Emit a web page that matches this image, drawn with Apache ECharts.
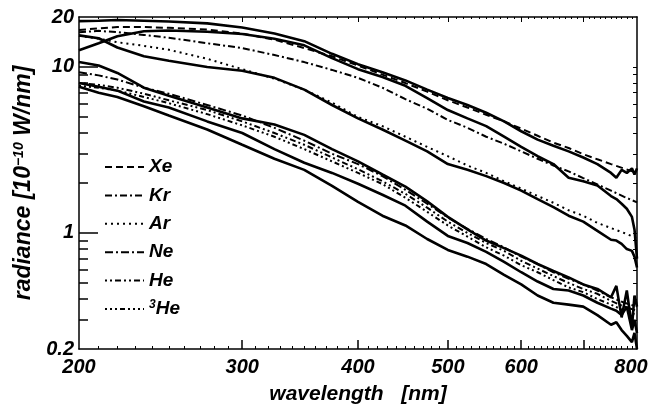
<!DOCTYPE html>
<html>
<head>
<meta charset="utf-8">
<script src="https://cdn.jsdelivr.net/npm/echarts@6/dist/echarts.min.js"></script>
<style>
  html, body { margin: 0; padding: 0; background: #fff; }
  #chart { width: 653px; height: 412px; }
</style>
</head>
<body>
<div id="chart"></div>
<script>
// wavelength grids [nm]
const wlMeas = [200, 210, 220, 235, 250, 275, 300, 325, 350, 375, 400, 425, 450, 475, 500, 525,
  550, 575, 600, 625, 650, 675, 700, 725, 750, 760, 770, 780, 790, 795, 800];
const wlFit = [200, 210, 220, 235, 250, 275, 300, 325, 350, 375, 400, 425, 450, 475, 500, 525,
  550, 575, 600, 625, 650, 675, 700, 725, 750, 775, 800];

// measured spectra (solid), radiance in 1e-10 W/nm
const measTop = [18.9, 19.0, 19.2, 19.0, 18.8, 18.3, 17.3, 15.9, 14.3, 12.0, 10.4, 9.3, 8.3, 7.3, 6.5, 5.9,
  5.3, 4.7, 4.1, 3.65, 3.35, 3.1, 2.85, 2.6, 2.3, 2.15, 2.4, 2.3, 2.45, 2.25, 2.45];
const measMid = [12.6, 13.9, 15.3, 16.4, 16.6, 16.3, 15.8, 14.8, 13.5, 11.3, 9.7, 8.7, 7.7, 6.5, 5.5, 4.9,
  4.4, 3.8, 3.3, 2.9, 2.6, 2.15, 2.05, 1.93, 1.67, 1.6, 1.5, 1.4, 1.25, 1.05, 0.7];
const measLow = [15.5, 14.9, 13.1, 11.6, 10.9, 10.0, 9.5, 8.6, 7.3, 5.9, 4.9, 4.2, 3.6, 3.1, 2.6, 2.4,
  2.2, 2.0, 1.8, 1.6, 1.43, 1.27, 1.17, 1.03, 0.91, 0.9, 0.86, 0.8, 0.78, 0.72, 0.62];
const measL1 = [10.7, 10.2, 9.2, 7.5, 6.7, 5.7, 4.9, 4.5, 3.9, 3.2, 2.7, 2.25, 1.9, 1.55, 1.25, 1.05,
  0.9, 0.81, 0.73, 0.65, 0.59, 0.54, 0.49, 0.46, 0.41, 0.48, 0.31, 0.45, 0.27, 0.42, 0.36];
const measL2 = [8.0, 7.6, 7.2, 6.2, 5.7, 4.7, 4.0, 3.2, 2.65, 2.3, 1.98, 1.7, 1.46, 1.17, 0.96, 0.87,
  0.77, 0.67, 0.58, 0.51, 0.46, 0.45, 0.42, 0.38, 0.35, 0.34, 0.32, 0.36, 0.26, 0.3, 0.25];
const measL3 = [7.6, 7.0, 6.6, 5.8, 5.1, 4.2, 3.4, 2.8, 2.4, 1.92, 1.54, 1.27, 1.11, 0.92, 0.79, 0.72,
  0.65, 0.56, 0.49, 0.42, 0.38, 0.37, 0.36, 0.32, 0.28, 0.29, 0.26, 0.24, 0.22, 0.25, 0.2];

// fits (legend entries)
const fitXe = [16.7, 17.1, 17.4, 17.4, 17.2, 16.8, 15.9, 14.6, 13.0, 11.6, 10.2, 9.0, 8.0, 7.1, 6.3, 5.7,
  5.15, 4.7, 4.25, 3.85, 3.5, 3.25, 2.98, 2.78, 2.6, 2.44, 2.3];
const fitKr = [16.2, 16.5, 16.2, 15.6, 15.0, 13.9, 13.0, 11.8, 10.7, 9.6, 8.6, 7.5, 6.4, 5.6, 4.8, 4.3,
  3.8, 3.45, 3.1, 2.8, 2.55, 2.35, 2.14, 1.96, 1.8, 1.65, 1.53];
const fitAr = [15.4, 14.8, 14.1, 13.4, 12.7, 11.2, 9.7, 8.5, 7.3, 6.1, 5.0, 4.4, 3.8, 3.3, 2.9, 2.55,
  2.3, 2.05, 1.85, 1.67, 1.52, 1.37, 1.27, 1.15, 1.07, 1.0, 0.93];
const fitNe = [9.3, 8.9, 8.4, 7.5, 6.9, 5.9, 5.1, 4.3, 3.6, 3.0, 2.6, 2.2, 1.82, 1.5, 1.24, 1.06,
  0.92, 0.82, 0.72, 0.65, 0.58, 0.53, 0.49, 0.45, 0.41, 0.38, 0.36];
const fitHe = [8.0, 7.8, 7.5, 6.9, 6.3, 5.5, 4.7, 4.0, 3.4, 2.85, 2.42, 2.05, 1.72, 1.42, 1.17, 1.0,
  0.87, 0.78, 0.68, 0.61, 0.55, 0.5, 0.46, 0.43, 0.39, 0.36, 0.34];
const fit3He = [7.7, 7.5, 7.2, 6.6, 6.05, 5.2, 4.45, 3.8, 3.2, 2.7, 2.3, 1.97, 1.63, 1.34, 1.11, 0.95,
  0.82, 0.73, 0.64, 0.58, 0.52, 0.47, 0.44, 0.40, 0.37, 0.34, 0.32];

// axis ticks
const xLabels = [200, 300, 400, 500, 600, 800];
const xMajor = [300, 400, 500, 600, 700];
const xMinor = [210, 220, 230, 240, 250, 260, 270, 280, 290, 310, 320, 330, 340, 350, 360, 370, 380, 390,
  410, 420, 430, 440, 450, 460, 470, 480, 490, 510, 520, 530, 540, 550, 560, 570, 580, 590,
  610, 620, 630, 640, 650, 660, 670, 680, 690, 710, 720, 730, 740, 750, 760, 770, 780, 790];
const yLabels = [0.2, 1, 10, 20];
const yMajor = [1, 10];
const yMinor = [0.3, 0.4, 0.5, 0.6, 0.7, 0.8, 0.9, 2, 3, 4, 5, 6, 7, 8, 9];

const FONT = '"Liberation Sans", Arial, sans-serif';
const chart = echarts.init(document.getElementById('chart'));

const measured = [measTop, measMid, measLow, measL1, measL2, measL3];
const fits = [
  ['Xe', fitXe, [7, 4]],
  ['Kr', fitKr, [7, 3, 2, 3]],
  ['Ar', fitAr, [2, 4]],
  ['Ne', fitNe, [8, 3, 2, 3]],
  ['He', fitHe, [2, 3, 2, 3, 6, 3]],
  ['3He', fit3He, [2, 3, 2, 3, 2, 3, 5, 3]]
];

const series = [];
measured.forEach((vals, k) => {
  series.push({
    type: 'line', name: 'meas' + k, color: '#000',
    data: wlMeas.map((w, i) => [w, vals[i]]),
    symbol: 'none', silent: true, z: 3,
    lineStyle: { color: '#000', width: 2.6 }
  });
});
fits.forEach(([name, vals, dash]) => {
  series.push({
    type: 'line', name: name, color: '#000',
    data: wlFit.map((w, i) => [w, vals[i]]),
    symbol: 'none', silent: true, z: 4,
    lineStyle: { color: '#000', width: 2, type: dash }
  });
});

const labelStyle = { color: '#000', fontFamily: FONT, fontSize: 20, fontWeight: 'bold', fontStyle: 'italic' };
const logX = { type: 'log', logBase: 10, min: 200, max: 800, splitLine: { show: false } };
const logY = { type: 'log', logBase: 10, min: 0.2, max: 20, splitLine: { show: false } };

const option = {
  animation: false,
  backgroundColor: '#fff',
  grid: { left: 79, right: 16, top: 17, bottom: 63, outerBoundsMode: 'none' },
  legend: {
    data: fits.map(f => f[0]),
    orient: 'vertical', left: 99, top: 152,
    itemWidth: 39, itemHeight: 14, itemGap: 8.4,
    itemStyle: { opacity: 0 },
    textStyle: Object.assign({}, labelStyle, {
      fontSize: 19, lineHeight: 20,
      rich: {
        b: Object.assign({}, labelStyle, { fontSize: 19 }),
        sup: Object.assign({}, labelStyle, { fontSize: 12, verticalAlign: 'top' })
      }
    }),
    formatter: n => n === '3He' ? '{sup|3}{b|He}' : '{b|' + n + '}'
  },
  xAxis: [
    Object.assign({}, logX, {
      position: 'bottom',
      name: 'wavelength   [nm]', nameLocation: 'middle', nameGap: 35,
      nameTextStyle: Object.assign({}, labelStyle, { fontSize: 21 }),
      axisLine: { lineStyle: { color: '#000', width: 1.5 } },
      axisTick: { inside: true, length: 9, customValues: xMajor, lineStyle: { color: '#000', width: 1.5 } },
      axisLabel: Object.assign({}, labelStyle, {
        margin: 8, customValues: xLabels,
        formatter: v => v === 800 ? '{r|800}' : '{n|' + v + '}',
        rich: {
          n: labelStyle,
          r: Object.assign({}, labelStyle, { padding: [0, 12, 0, 0] })
        }
      })
    }),
    Object.assign({}, logX, {
      position: 'bottom',
      axisLine: { show: false },
      axisTick: { inside: true, length: 3, customValues: xMinor, lineStyle: { color: '#000', width: 1 } },
      axisLabel: { show: false }
    }),
    Object.assign({}, logX, {
      position: 'top',
      axisLine: { lineStyle: { color: '#000', width: 1.5 } },
      axisTick: { inside: true, length: 5, customValues: xMajor, lineStyle: { color: '#000', width: 1 } },
      axisLabel: { show: false }
    }),
    Object.assign({}, logX, {
      position: 'top',
      axisLine: { show: false },
      axisTick: { inside: true, length: 2, customValues: xMinor, lineStyle: { color: '#000', width: 1 } },
      axisLabel: { show: false }
    })
  ],
  yAxis: [
    Object.assign({}, logY, {
      position: 'left',
      name: 'radiance [10{sup|\u221210} W/nm]', nameLocation: 'middle', nameGap: 44,
      nameTextStyle: Object.assign({}, labelStyle, {
        fontSize: 23,
        rich: { sup: Object.assign({}, labelStyle, { fontSize: 14, verticalAlign: 'top' }) }
      }),
      axisLine: { lineStyle: { color: '#000', width: 1.5 } },
      axisTick: { inside: true, length: 19, customValues: yMajor, lineStyle: { color: '#000', width: 1.5 } },
      axisLabel: Object.assign({}, labelStyle, { margin: 5, customValues: yLabels })
    }),
    Object.assign({}, logY, {
      position: 'left',
      axisLine: { show: false },
      axisTick: { inside: true, length: 9, customValues: yMinor, lineStyle: { color: '#000', width: 1.5 } },
      axisLabel: { show: false }
    }),
    Object.assign({}, logY, {
      position: 'right',
      axisLine: { lineStyle: { color: '#000', width: 1.5 } },
      axisTick: { inside: true, length: 4, customValues: yMinor.concat(yMajor), lineStyle: { color: '#000', width: 1 } },
      axisLabel: { show: false }
    })
  ],
  series: series
};

chart.setOption(option);
</script>
</body>
</html>
